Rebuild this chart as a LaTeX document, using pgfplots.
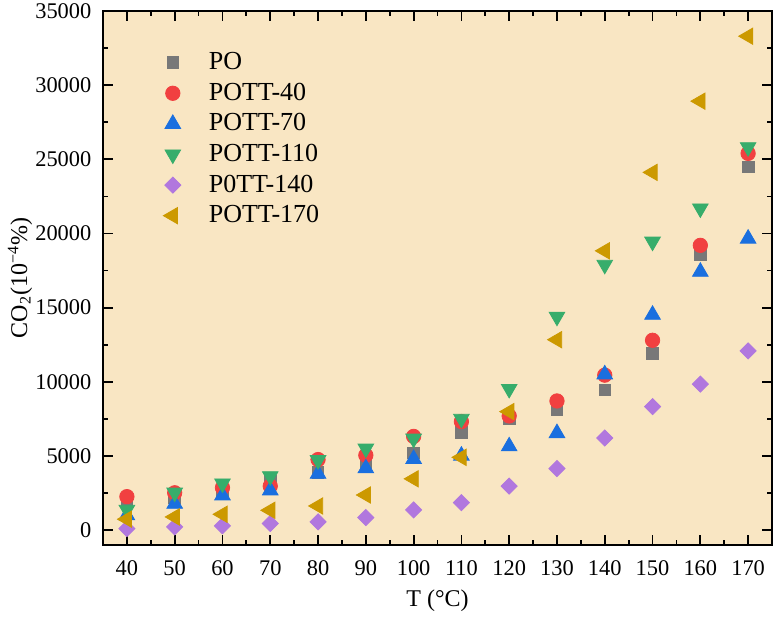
\documentclass[border=0pt]{standalone}
\usepackage{pgfplots}
\pgfplotsset{compat=1.18}
\usepackage{fontspec}
\setmainfont{Liberation Serif}
\definecolor{bg}{HTML}{F9E6C3}
\definecolor{cgray}{HTML}{787878}
\definecolor{cred}{HTML}{F14040}
\definecolor{cblue}{HTML}{1A6FDF}
\definecolor{cgreen}{HTML}{37AD6B}
\definecolor{cpurple}{HTML}{B177DE}
\definecolor{cgold}{HTML}{CC9900}
\begin{document}
\begin{tikzpicture}
\begin{axis}[
 scale only axis, width=334.5pt, height=267pt,
 xmin=35, xmax=175, ymin=-1000, ymax=35000,
 axis background/.style={fill=bg},
 axis line style={line width=1pt},
 every tick/.style={black, line width=0.9pt},
 major tick length=5pt, minor tick length=2.5pt,
 tick align=inside,
 xtick={40,50,...,170}, minor x tick num=1,
 ytick={0,5000,...,35000}, minor y tick num=1,
 /pgf/number format/1000 sep={},
 /pgf/number format/assume math mode=true,
 scaled y ticks=false,
 tick label style={font=\fontsize{11.2}{13}\selectfont},
 xticklabel style={yshift=-4.5pt},
 yticklabel style={xshift=-2.3pt},
 xlabel={T (°C)},
 ylabel={CO\textsubscript{2}(10\textsuperscript{−4}\%)},
 label style={font=\fontsize{12}{14}\selectfont},
 xlabel style={at={(axis description cs:0.5,-0.1049)}, anchor=center},
 ylabel style={at={(axis description cs:-0.1241,0.5)}, anchor=center},
 legend style={draw=none, fill=none, inner sep=0pt,
   at={(axis description cs:0.0897,0.9283)}, anchor=north west,
   font=\fontsize{13}{15}\selectfont,
   nodes={inner sep=0pt, text height=10pt, text depth=3pt},
   row sep=2.3pt, column sep=14pt},
 legend cell align=left,
 only marks,
]
\addplot[mark=square*, mark size=2.9pt, color=cgray] coordinates {
(40,1900)(50,2200)(60,2700)(70,3300)(80,3900)(90,4530)(100,5200)(110,6610)(120,7550)(130,8150)(140,9450)(150,11900)(160,18600)(170,24480)};
\addlegendentry{PO}
\addplot[mark=*, mark size=3.6pt, color=cred] coordinates {
(40,2260)(50,2520)(60,2860)(70,2970)(80,4760)(90,5050)(100,6320)(110,7320)(120,7700)(130,8710)(140,10450)(150,12800)(160,19200)(170,25400)};
\addlegendentry{POTT-40}
\addplot[mark=triangle*, mark size=4.5pt, color=cblue] coordinates {
(40,1000)(50,1780)(60,2340)(70,2680)(80,3800)(90,4170)(100,4800)(110,5020)(120,5650)(130,6540)(140,10500)(150,14520)(160,17420)(170,19650)};
\addlegendentry{POTT-70}
\addplot[mark=triangle*, mark size=4.5pt, mark options={rotate=180}, color=cgreen] coordinates {
(40,1370)(50,2530)(60,3150)(70,3640)(80,4720)(90,5500)(100,6170)(110,7510)(120,9520)(130,14390)(140,17890)(150,19450)(160,21690)(170,25820)};
\addlegendentry{POTT-110}
\addplot[mark=square*, mark size=2.85pt, mark options={rotate=45}, color=cpurple] coordinates {
(40,110)(50,220)(60,290)(70,450)(80,560)(90,850)(100,1360)(110,1850)(120,2970)(130,4150)(140,6210)(150,8330)(160,9850)(170,12080)};
\addlegendentry{P0TT-140}
\addplot[mark=triangle*, mark size=4.7pt, mark options={rotate=90}, color=cgold] coordinates {
(40,740)(50,890)(60,1070)(70,1340)(80,1630)(90,2370)(100,3460)(110,4910)(120,7990)(130,12840)(140,18830)(150,24120)(160,28920)(170,33300)};
\addlegendentry{POTT-170}
\coordinate (ll) at (rel axis cs:0,0);
\coordinate (ur) at (rel axis cs:1,1);
\end{axis}
\pgfresetboundingbox
\path[use as bounding box] ([shift={(-51.5pt,-36pt)}]ll) rectangle ([shift={(1pt,5.5pt)}]ur);
\end{tikzpicture}
\end{document}
